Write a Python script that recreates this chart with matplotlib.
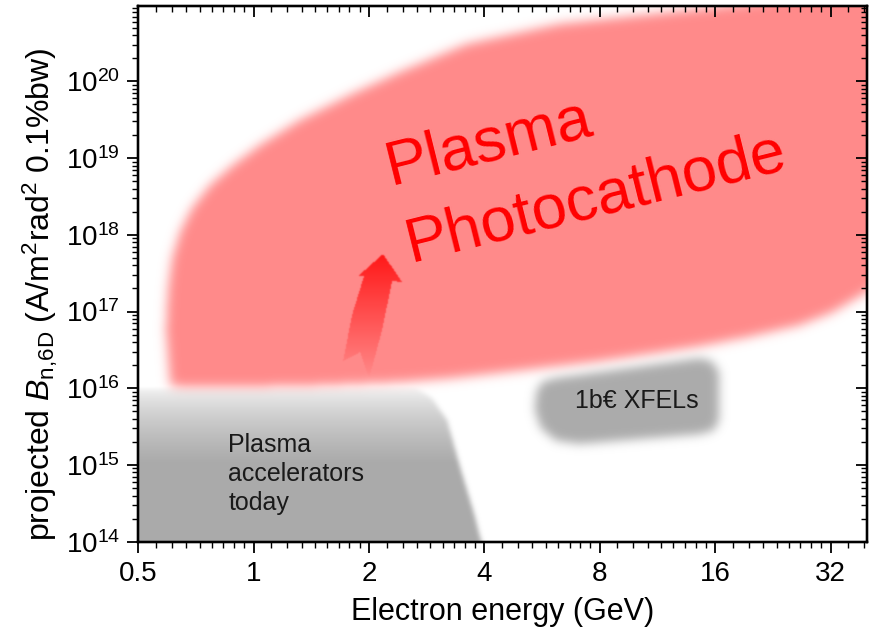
import numpy as np
import matplotlib
matplotlib.use('Agg')
import matplotlib.pyplot as plt
from matplotlib.path import Path
from matplotlib.ticker import FixedLocator, FixedFormatter, NullFormatter, LogLocator

plt.rcParams['font.family'] = ['Liberation Sans', 'DejaVu Sans']
plt.rcParams['mathtext.fontset'] = 'custom'
plt.rcParams['mathtext.rm'] = 'Liberation Sans'
plt.rcParams['mathtext.it'] = 'Liberation Sans:italic'
plt.rcParams['mathtext.bf'] = 'Liberation Sans:bold'

# ---------------- data ----------------
x_ticks = [0.5, 1, 2, 4, 8, 16, 32]
x_tick_labels = ['0.5', '1', '2', '4', '8', '16', '32']
y_exponents = [14, 15, 16, 17, 18, 19, 20]

# "Plasma Photocathode" region outline (GeV, brightness)
red_x = [0.607, 0.592, 0.599, 0.614, 0.644, 0.692, 0.771, 0.885, 1.041, 1.323, 1.786, 2.411, 3.605,
         6.30, 11.08, 20.92, 35.9, 60.0, 60.0, 49.9, 39.76, 32.4, 26.6, 19.36, 14.6, 11.08, 8.01,
         4.78, 3.26, 2.41, 1.32, 0.727]
red_y = [1.07e16, 5.77e16, 1.91e17, 5.0e17, 1.09e18, 2.24e18, 4.47e18, 8.15e18, 1.49e19, 3.15e19, 6.67e19, 1.33e20, 3.08e20,
         5.62e20, 7.59e20, 1.09e21, 1.81e21, 3.0e21, 6.0e17, 4.44e17, 1.80e17, 9.89e16, 6.69e16, 4.67e16, 3.56e16, 2.88e16, 2.27e16,
         1.68e16, 1.36e16, 1.21e16, 1.07e16, 1.04e16]

# "Plasma accelerators today" region outline
acc_x = [0.40, 2.64, 2.92, 3.20, 3.46, 3.74, 3.95, 4.04, 0.40]
acc_y = [1.05e16, 1.05e16, 7.5e15, 3.86e15, 9.4e14, 2.59e14, 9.1e13, 4.3e13, 4.3e13]

# "1b€ XFELs" region outline
xfel_x = [6.11, 14.6, 15.69, 16.36, 16.36, 15.88, 14.6, 7.11, 6.15, 5.62, 5.42, 5.46, 5.66]
xfel_y = [1.36e16, 2.48e16, 2.27e16, 1.63e16, 3.86e15, 2.86e15, 2.54e15, 1.9e15, 2.1e15, 3.04e15, 5.21e15, 8.95e15, 1.21e16]

# arrow outline
arrow_x = [2.178, 2.441, 2.299, 2.165, 2.003, 1.897, 1.713, 1.808, 1.943, 1.874]
arrow_y = [5.64e17, 2.43e17, 2.51e17, 5.76e16, 1.36e16, 2.97e16, 2.27e16, 9.04e16, 2.91e17, 2.91e17]

XMIN, XMAX = 0.5, 39.8
YMIN, YMAX = 1e14, 9.6e20

# ---------------- soft-region raster on log grid ----------------
NX, NY, PAD = 729, 536, 40
lx0, lx1 = np.log2(XMIN), np.log2(XMAX)
ly0, ly1 = np.log10(YMIN), np.log10(YMAX)
dx = (lx1 - lx0) / NX
dy = (ly1 - ly0) / NY
cx = lx0 + (np.arange(-PAD, NX + PAD) + 0.5) * dx
cy = ly0 + (np.arange(-PAD, NY + PAD) + 0.5) * dy
GX, GY = np.meshgrid(cx, cy)
pts = np.column_stack([GX.ravel(), GY.ravel()])


def blur(a, s):
    r = int(3 * s) + 1
    k = np.exp(-0.5 * (np.arange(-r, r + 1) / s) ** 2)
    k /= k.sum()
    a = np.apply_along_axis(lambda v: np.convolve(v, k, mode='same'), 0, a)
    a = np.apply_along_axis(lambda v: np.convolve(v, k, mode='same'), 1, a)
    return a


def soft_mask(xs, ys, sigma):
    v = np.column_stack([np.log2(xs), np.log10(ys)])
    v = np.vstack([v, v[:1]])
    m = Path(v, closed=True).contains_points(pts).reshape(GX.shape).astype(float)
    if sigma > 0:
        m = blur(m, sigma)
    return m[PAD:-PAD, PAD:-PAD]


LY = GY[PAD:-PAD, PAD:-PAD]
img = np.ones((NY, NX, 3))


def over(base, color, alpha):
    c = np.array(color, dtype=float)
    a = np.clip(alpha, 0, 1)[..., None]
    return base * (1 - a) + c * a


# gray "plasma accelerators today" with vertical fade
acc_alpha = soft_mask(acc_x, acc_y, 2.5) * np.clip((16.03 - LY) / 1.0, 0, 1) ** 0.6
img = over(img, (0.665, 0.665, 0.665), acc_alpha)
# red photocathode region
img = over(img, (1.0, 0.54, 0.54), soft_mask(red_x, red_y, 5.5))
# XFEL blob
img = over(img, (0.67, 0.67, 0.67), soft_mask(xfel_x, xfel_y, 5.0))
# arrow with gradient
arr_alpha = soft_mask(arrow_x, arrow_y, 0.7) * np.clip(0.9 * (LY - 16.13) / (17.75 - 16.13), 0.02, 0.9)
img = over(img, (1.0, 0.04, 0.04), arr_alpha)

xedges = 2.0 ** (lx0 + np.arange(NX + 1) * dx)
yedges = 10.0 ** (ly0 + np.arange(NY + 1) * dy)

# ---------------- figure ----------------
fig = plt.figure(figsize=(8.75, 6.29), dpi=100)
ax = fig.add_axes([138.3 / 875, 1 - 541.7 / 629, 728.7 / 875, 535.7 / 629])
ax.set_xscale('log', base=2)
ax.set_yscale('log')
ax.pcolormesh(xedges, yedges, img, shading='flat', antialiased=False, edgecolors='none', linewidth=0)
ax.set_xlim(XMIN, XMAX)
ax.set_ylim(YMIN, YMAX)

minor_x = [b * (1 + k / 9) for b in x_ticks for k in range(1, 9)]
y_major = [10.0 ** e for e in y_exponents]
y_labels = [r'$\mathregular{10^{%d}}$' % e for e in y_exponents]

ax.xaxis.set_major_locator(FixedLocator(x_ticks))
ax.xaxis.set_minor_locator(FixedLocator(minor_x))
ax.yaxis.set_major_locator(FixedLocator(y_major))
ax.yaxis.set_minor_locator(LogLocator(base=10, subs=np.arange(2, 10)))
ax.xaxis.set_minor_formatter(NullFormatter())
ax.yaxis.set_minor_formatter(NullFormatter())
ax.xaxis.set_major_formatter(FixedFormatter(x_tick_labels))
ax.yaxis.set_major_formatter(FixedFormatter(y_labels))
ax.tick_params(which='major', direction='out', length=8, width=1.3, labelsize=20, pad=5, colors='black')
ax.tick_params(which='minor', direction='out', length=4, width=1.0)
ax.tick_params(axis='x', which='major', pad=6)

axt = ax.twiny()
axt.set_xscale('log', base=2)
axt.set_xlim(XMIN, XMAX)
axt.xaxis.set_major_locator(FixedLocator(x_ticks))
axt.xaxis.set_minor_locator(FixedLocator(minor_x))
axt.tick_params(axis='x', which='major', direction='in', length=8, width=1.3, labeltop=False)
axt.tick_params(axis='x', which='minor', direction='in', length=4, width=1.0, labeltop=False)

axr = ax.twinx()
axr.set_yscale('log')
axr.set_ylim(YMIN, YMAX)
axr.yaxis.set_major_locator(FixedLocator(y_major))
axr.yaxis.set_minor_locator(LogLocator(base=10, subs=np.arange(2, 10)))
axr.tick_params(axis='y', which='major', direction='in', length=8, width=1.3, labelright=False)
axr.tick_params(axis='y', which='minor', direction='in', length=4, width=1.0, labelright=False)

for a in (ax, axt, axr):
    for s in a.spines.values():
        s.set_linewidth(1.6)

ax.set_xlabel('Electron energy (GeV)', fontsize=22)
ax.xaxis.set_label_coords(0.5, (541.7 - 620) / 535.7)
ax.xaxis.label.set_verticalalignment('baseline')

ax.set_ylabel(r'projected $\mathit{B}_{\mathregular{n{,}6D}}$ (A/m$\mathregular{^2}$rad$\mathregular{^2}$ 0.1%bw)', fontsize=23)
ax.yaxis.set_label_coords((40 - 138.3) / 728.7, (541.7 - 294) / 535.7)
ax.yaxis.label.set_verticalalignment('center')

# annotations
ax.text(2.271, 4.48e18, 'Plasma', color='#ff0000', fontsize=45.5, rotation=14,
        rotation_mode='anchor', ha='left', va='baseline')
ax.text(2.561, 4.48e17, 'Photocathode', color='#ff0000', fontsize=45.5, rotation=14,
        rotation_mode='anchor', ha='left', va='baseline')
ax.text(0.859, 2.59e14, 'Plasma\naccelerators\ntoday', color='#1a1a1a', fontsize=18,
        ha='left', va='baseline', linespacing=1.25)
ax.text(10.0, 5.53e15, '1b€ XFELs', color='#1a1a1a', fontsize=18, ha='center', va='baseline')

fig.savefig('out.png', dpi=100)
